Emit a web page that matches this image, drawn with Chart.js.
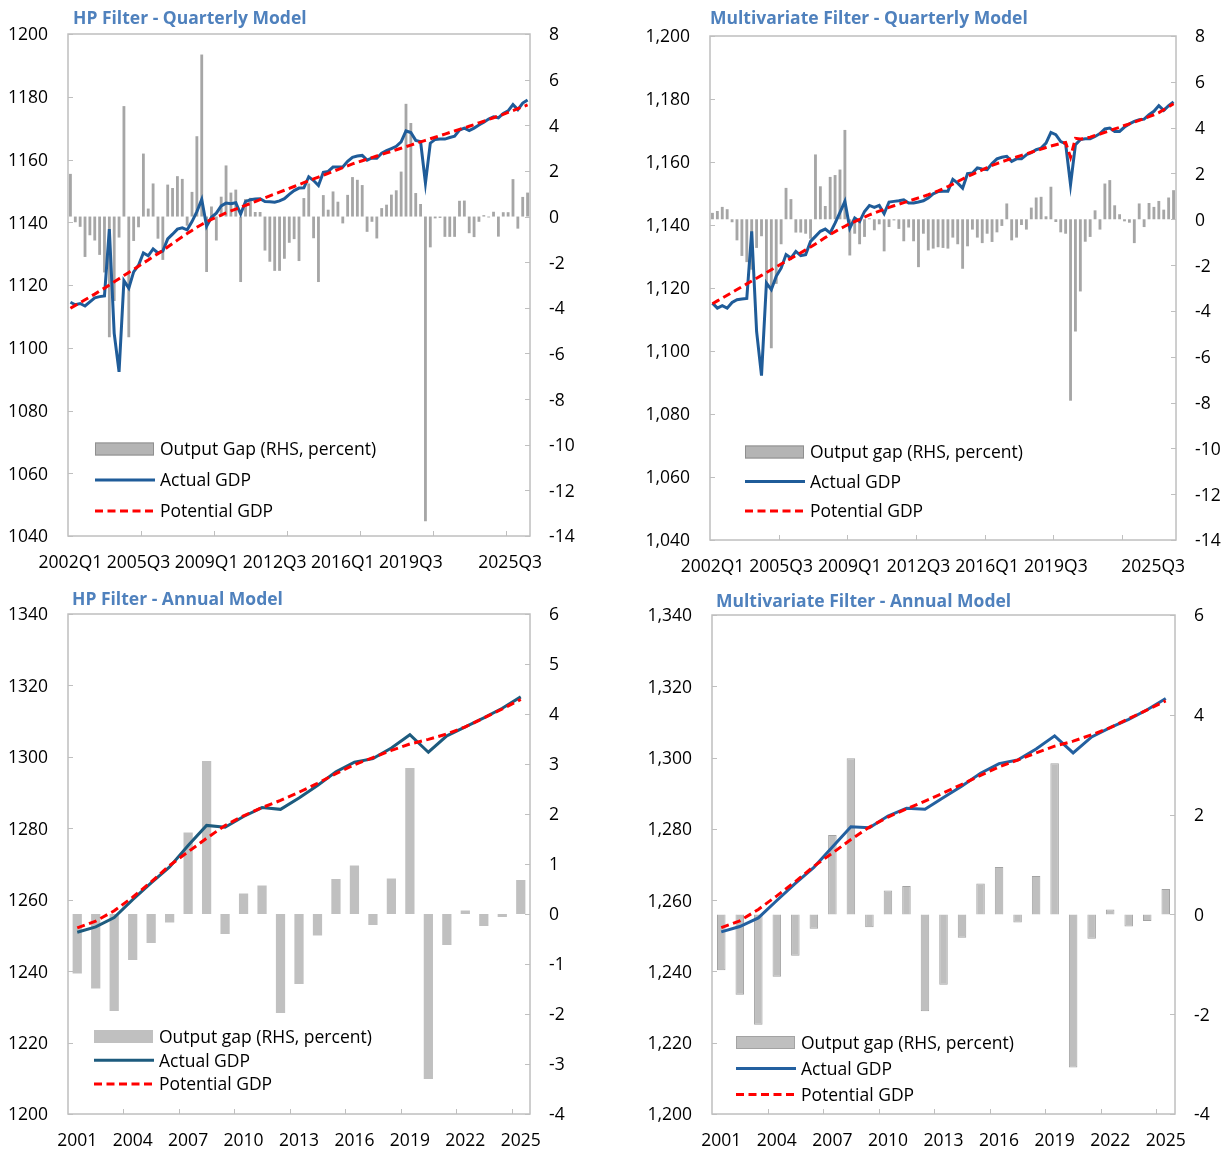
<!DOCTYPE html>
<html>
<head>
<meta charset="utf-8">
<title>Output gap estimates</title>
<script src="https://cdn.jsdelivr.net/npm/chart.js@4.4.1/dist/chart.umd.min.js"></script>
<style>
  html, body { margin: 0; padding: 0; background: #ffffff; }
  #page { position: relative; width: 1225px; height: 1152px; overflow: hidden; }
  canvas { position: absolute; }
</style>
</head>
<body>
<div id="page">
  <canvas id="hpQ" width="612" height="582" style="left:0px;top:0px"></canvas>
  <canvas id="mvQ" width="613" height="582" style="left:612px;top:0px"></canvas>
  <canvas id="hpA" width="612" height="570" style="left:0px;top:582px"></canvas>
  <canvas id="mvA" width="613" height="570" style="left:612px;top:582px"></canvas>
</div>
<script>
// ---------- categories ----------
function quarterLabels(startYear, count) {
  const out = [];
  for (let k = 0; k < count; k++) {
    out.push((startYear + Math.floor(k / 4)) + 'Q' + (k % 4 + 1));
  }
  return out;
}
const quarters = quarterLabels(2002, 95);               // 2002Q1 .. 2025Q3
const years = ['2001','2002','2003','2004','2005','2006','2007','2008','2009','2010',
               '2011','2012','2013','2014','2015','2016','2017','2018','2019','2020',
               '2021','2022','2023','2024','2025'];

// ---------- tick labels ----------
const quarterTickLabels = ['2002Q1','2005Q3','2009Q1','2012Q3','2016Q1','2019Q3','2025Q3'];
const yearTickLabels = ['2001','2004','2007','2010','2013','2016','2019','2022','2025'];
const legendLabelsHPQ = ['Output Gap (RHS, percent)', 'Actual GDP', 'Potential GDP'];
const legendLabels = ['Output gap (RHS, percent)', 'Actual GDP', 'Potential GDP'];

// ---------- HP filter, quarterly ----------
const hpQGap = [
  1.87, -0.25, -0.45, -1.77, -0.82, -1.05, -1.68, -2.45, -5.29, -3.7,
  -0.92, 4.84, -5.29, -1.07, -0.47, 2.76, 0.35, 1.45, -0.97, -1.9,
  1.4, 1.25, 1.77, 1.65, -0.4, 1.08, 3.52, 7.1, -2.43, 0.44,
  -1.05, 0.87, 2.24, 1.05, 1.18, -2.87, 0.77, 0.82, 0.2, 0.2,
  -1.49, -1.98, -2.38, -2.38, -1.85, -1.15, -0.99, -1.95, 0.81, 1.45,
  -0.95, -2.87, 0.94, 0.3, 1.1, 0.65, -0.3, 0.95, 1.73, 1.61,
  1.38, -0.67, -0.23, -0.96, 0.37, 0.52, 0.96, 1.15, 1.97, 4.94,
  4.1, 1.03, 0.55, -13.35, -1.35, -0.08, -0.06, -0.89, -0.89, -0.89,
  0.69, 0.7, -0.73, -0.9, -0.23, 0.06, -0.04, 0.21, -0.88, 0.19,
  0.19, 1.64, -0.53, 0.86, 1.05
];
const hpQActual = [
  1114.5, 1113.7, 1114.1, 1113.3, 1114.6, 1115.9, 1116.3, 1116.5, 1137.8, 1104.6,
  1092.3, 1121.4, 1119.0, 1124.2, 1126.3, 1130.2, 1129.3, 1131.5, 1130.2, 1130.8,
  1134.7, 1136.2, 1137.8, 1138.2, 1137.6, 1140.2, 1143.4, 1147.3, 1138.7, 1141.6,
  1142.9, 1145.2, 1146.1, 1145.9, 1146.2, 1142.6, 1146.6, 1147.2, 1147.4, 1147.5,
  1146.6, 1146.5, 1146.4, 1146.8, 1147.5, 1148.9, 1150.1, 1150.9, 1151.0, 1154.5,
  1153.3, 1151.7, 1155.9, 1156.2, 1157.6, 1157.6, 1157.6, 1159.4, 1160.7, 1161.1,
  1161.3, 1159.8, 1160.5, 1160.4, 1162.0, 1162.8, 1163.5, 1164.2, 1165.6, 1169.1,
  1168.6, 1166.1, 1165.7, 1152.5, 1165.2, 1166.4, 1166.5, 1166.5, 1167.0, 1167.4,
  1169.4, 1170.0, 1169.2, 1170.0, 1171.0, 1171.9, 1172.9, 1173.6, 1173.3, 1174.7,
  1175.5, 1177.5, 1175.9, 1178.0, 1179.0
];
const hpQPotential = [
  1112.6, 1113.5, 1114.4, 1115.3, 1116.2, 1117.1, 1118.1, 1119.0, 1120.0, 1121.0,
  1122.0, 1123.0, 1124.0, 1125.0, 1126.0, 1127.0, 1128.0, 1129.0, 1130.0, 1131.0,
  1132.1, 1133.2, 1134.3, 1135.4, 1136.4, 1137.4, 1138.4, 1139.3, 1140.1, 1140.9,
  1141.6, 1142.3, 1143.0, 1143.6, 1144.2, 1144.8, 1145.4, 1146.0, 1146.6, 1147.2,
  1147.8, 1148.4, 1149.0, 1149.6, 1150.2, 1150.8, 1151.4, 1152.0, 1152.6, 1153.2,
  1153.8, 1154.4, 1155.0, 1155.6, 1156.2, 1156.8, 1157.4, 1158.0, 1158.6, 1159.1,
  1159.6, 1160.1, 1160.6, 1161.1, 1161.6, 1162.1, 1162.6, 1163.1, 1163.6, 1164.1,
  1164.6, 1165.1, 1165.6, 1166.1, 1166.6, 1167.1, 1167.6, 1168.1, 1168.6, 1169.1,
  1169.6, 1170.1, 1170.6, 1171.1, 1171.7, 1172.2, 1172.8, 1173.3, 1173.9, 1174.4,
  1175.0, 1175.6, 1176.2, 1176.8, 1177.4
];

// ---------- Multivariate filter, quarterly ----------
const mvQGap = [
  0.28, 0.36, 0.54, 0.44, -0.13, -0.92, -1.6, -1.87, -2.2, -1.25,
  -0.74, -3.0, -5.63, -2.82, -1.09, 1.37, 0.88, -0.58, -0.58, -0.63,
  -0.85, 2.83, 1.44, 0.58, 1.85, 1.93, 2.17, 3.9, -1.58, -0.63,
  -1.09, -0.77, 0.04, -0.48, -0.22, -1.4, -0.34, -0.05, -0.42, -0.96,
  -0.36, -0.96, -2.09, -0.63, -1.36, -1.28, -1.22, -1.25, -1.28, -0.8,
  -1.09, -2.16, -1.18, -0.45, -0.8, -1.04, -0.63, -0.99, -0.57, -0.29,
  0.69, -0.92, -0.8, -0.25, -0.45, 0.51, 0.95, 0.98, 0.13, 1.42,
  -0.12, -0.57, -0.63, -7.92, -4.9, -3.15, -0.98, -0.77, 0.39, -0.45,
  1.56, 1.71, 0.61, 0.22, -0.09, -0.15, -1.04, 0.69, -0.34, 0.71,
  0.54, 0.8, 0.42, 0.95, 1.27
];
const mvQActual = [
  1115.2, 1113.6, 1114.4, 1113.6, 1115.4, 1116.3, 1116.5, 1116.7, 1138.0, 1106.2,
  1092.2, 1121.6, 1119.5, 1123.7, 1126.3, 1130.6, 1129.5, 1131.6, 1130.3, 1130.6,
  1134.8, 1136.4, 1138.0, 1138.7, 1137.5, 1140.6, 1144.0, 1147.5, 1139.0, 1142.2,
  1141.1, 1144.3, 1146.2, 1145.6, 1146.2, 1143.6, 1147.3, 1147.5, 1147.7, 1148.0,
  1147.0, 1147.0, 1147.3, 1147.7, 1148.6, 1149.9, 1150.6, 1150.7, 1150.7, 1154.5,
  1153.3, 1151.7, 1156.3, 1156.5, 1158.1, 1157.8, 1157.6, 1159.5, 1161.0, 1161.5,
  1161.8, 1160.2, 1161.0, 1161.0, 1162.3, 1163.0, 1163.9, 1164.4, 1166.0, 1169.4,
  1168.7, 1166.5, 1165.8, 1152.8, 1165.5, 1167.1, 1167.4, 1167.4, 1168.1, 1169.0,
  1170.5, 1170.8, 1169.7, 1169.7, 1171.1, 1172.1, 1172.9, 1173.4, 1173.6, 1175.0,
  1176.1, 1177.9, 1176.4, 1177.9, 1179.1
];
const mvQPotential = [
  1115.0, 1115.9, 1116.8, 1117.7, 1118.6, 1119.5, 1120.4, 1121.3, 1122.2, 1123.1,
  1124.0, 1124.9, 1125.8, 1126.7, 1127.6, 1128.5, 1129.4, 1130.3, 1131.2, 1132.1,
  1133.0, 1134.0, 1135.0, 1136.0, 1137.0, 1137.9, 1138.8, 1139.6, 1140.4, 1141.1,
  1141.8, 1142.5, 1143.2, 1143.8, 1144.4, 1145.0, 1145.6, 1146.1, 1146.6, 1147.1,
  1147.6, 1148.1, 1148.6, 1149.1, 1149.6, 1150.2, 1150.8, 1151.5, 1152.2, 1153.0,
  1153.8, 1154.6, 1155.4, 1156.1, 1156.8, 1157.5, 1158.2, 1158.9, 1159.5, 1160.1,
  1160.6, 1161.1, 1161.6, 1162.1, 1162.6, 1163.1, 1163.6, 1164.1, 1164.6, 1165.1,
  1165.5, 1165.9, 1166.2, 1161.5, 1167.5, 1167.3, 1167.5, 1167.9, 1168.4, 1168.9,
  1169.4, 1169.9, 1170.5, 1171.0, 1171.6, 1172.1, 1172.7, 1173.2, 1173.8, 1174.4,
  1175.0, 1175.7, 1176.6, 1177.5, 1178.5
];

// ---------- HP filter, annual ----------
const hpAGap = [-1.19, -1.49, -1.94, -0.92, -0.58, -0.17, 1.63, 3.06, -0.40, 0.41,
                0.57, -1.98, -1.40, -0.43, 0.70, 0.97, -0.22, 0.71, 2.92, -3.30,
                -0.62, 0.07, -0.24, -0.06, 0.68];
const hpAActual = [1250.9, 1252.4, 1255.0, 1260.0, 1264.7, 1269.2, 1275.2, 1280.8, 1280.3, 1283.3,
                   1285.8, 1285.3, 1288.5, 1292.0, 1295.8, 1298.5, 1299.5, 1302.5, 1306.2, 1301.3,
                   1305.9, 1308.4, 1310.9, 1313.6, 1316.8];
const hpAPotential = [1252.1, 1254.0, 1256.9, 1260.7, 1265.0, 1269.6, 1273.4, 1277.2, 1280.8, 1283.5,
                      1285.8, 1287.8, 1290.1, 1292.6, 1295.3, 1297.8, 1299.8, 1301.8, 1303.6, 1304.9,
                      1306.4, 1308.4, 1310.9, 1313.4, 1316.1];

// ---------- Multivariate filter, annual ----------
const mvAGap = [-1.12, -1.61, -2.21, -1.25, -0.83, -0.29, 1.59, 3.13, -0.26, 0.48,
                0.57, -1.94, -1.41, -0.47, 0.62, 0.95, -0.16, 0.77, 3.03, -3.07,
                -0.49, 0.10, -0.24, -0.13, 0.51];
const mvAActual = [1251.1, 1252.6, 1255.0, 1259.9, 1264.7, 1269.2, 1274.9, 1280.6, 1280.3, 1283.6,
                   1285.8, 1285.5, 1288.8, 1292.0, 1295.6, 1298.3, 1299.3, 1302.4, 1306.1, 1301.3,
                   1305.8, 1308.4, 1310.7, 1313.4, 1316.6];
const mvAPotential = [1252.3, 1254.2, 1257.4, 1261.2, 1265.2, 1269.5, 1273.2, 1277.0, 1280.5, 1283.3,
                      1285.6, 1287.8, 1290.1, 1292.5, 1295.0, 1297.4, 1299.3, 1301.3, 1303.2, 1304.6,
                      1306.4, 1308.4, 1310.9, 1313.4, 1315.9];

// ---------- look ----------
const FONT = '"Open Sans", "Noto Sans", "DejaVu Sans", sans-serif';
const TEXT_SIZE = 17.5;
const TEXT_DY = 1.5;          // optical centring of text on its anchor
const TITLE_COLOR = '#4f81bd';
const FRAME_COLOR = '#bfbfbf';
const RED = '#ff0000';

const panels = [
  {
    canvas: 'hpQ', title: 'HP Filter - Quarterly Model',
    labels: quarters, tickLabels: quarterTickLabels, tickEvery: 15, lastLabelPad: 12,
    gap: hpQGap, actual: hpQActual, potential: hpQPotential,
    yRange: [1040, 1200, 20], y1Range: [-14, 8, 2], thousands: false,
    area: { l: 68, r: 530, t: 34, b: 536 }, titleAt: [73, 18],
    legend: { x: 95, y: 449, gap: 31, labels: legendLabelsHPQ },
    barColor: '#a6a6a6', barBorder: null, barPct: 0.58, lineColor: '#1f5c99', patch: ['#b4b4b4', '#8f8f8f']
  },
  {
    canvas: 'mvQ', title: 'Multivariate Filter - Quarterly Model',
    labels: quarters, tickLabels: quarterTickLabels, tickEvery: 14, lastLabelPad: 9,
    gap: mvQGap, actual: mvQActual, potential: mvQPotential,
    yRange: [1040, 1200, 20], y1Range: [-14, 8, 2], thousands: true,
    area: { l: 98, r: 564, t: 36, b: 540 }, titleAt: [98, 18],
    legend: { x: 133, y: 452, gap: 29.5, labels: legendLabels },
    barColor: '#a6a6a6', barBorder: null, barPct: 0.58, lineColor: '#1f5c99', patch: ['#b4b4b4', '#8f8f8f']
  },
  {
    canvas: 'hpA', title: 'HP Filter - Annual Model',
    labels: years, tickLabels: yearTickLabels, tickEvery: 3, lastLabelPad: 30,
    gap: hpAGap, actual: hpAActual, potential: hpAPotential,
    yRange: [1200, 1340, 20], y1Range: [-4, 6, 1], thousands: false,
    area: { l: 68, r: 530, t: 32, b: 532 }, titleAt: [72, 17],
    legend: { x: 94, y: 454.5, gap: 23.7, labels: legendLabels },
    barColor: '#c0c0c0', barBorder: null, barPct: 0.5, lineColor: '#1d5b7e', patch: ['#c0c0c0', null]
  },
  {
    canvas: 'mvA', title: 'Multivariate Filter - Annual Model',
    labels: years, tickLabels: yearTickLabels, tickEvery: 3, lastLabelPad: 30,
    gap: mvAGap, actual: mvAActual, potential: mvAPotential,
    yRange: [1200, 1340, 20], y1Range: [-4, 6, 2], thousands: true,
    area: { l: 100, r: 563, t: 33, b: 532 }, titleAt: [104, 19],
    legend: { x: 124, y: 460.5, gap: 26, labels: legendLabels },
    barColor: '#bfbfbf', barBorder: '#a3a3a3', barPct: 0.46, lineColor: '#2360a0', patch: ['#bfbfbf', '#a3a3a3']
  }
];

function fmt(v, thousands) {
  const s = thousands ? Math.abs(v).toLocaleString('en-US') : String(Math.abs(v));
  return (v < 0 ? '-' : '') + s;
}

// frame, inward tick marks, category labels, title and legend
function makeDecor(p) {
  return {
    id: 'decor_' + p.canvas,
    afterDraw(chart) {
      const ctx = chart.ctx;
      const a = chart.chartArea;
      const xs = chart.scales.x, ys = chart.scales.y, y1 = chart.scales.y1;
      ctx.save();

      ctx.strokeStyle = FRAME_COLOR;
      ctx.lineWidth = 1.5;
      ctx.strokeRect(a.left, a.top, a.right - a.left, a.bottom - a.top);

      ctx.lineWidth = 1;
      ctx.beginPath();
      ys.ticks.forEach(t => {
        const y = Math.round(ys.getPixelForValue(t.value)) + 0.5;
        ctx.moveTo(a.left, y); ctx.lineTo(a.left + 5, y);
      });
      y1.ticks.forEach(t => {
        const y = Math.round(y1.getPixelForValue(t.value)) + 0.5;
        ctx.moveTo(a.right - 5, y); ctx.lineTo(a.right, y);
      });
      const half = (xs.getPixelForValue(1) - xs.getPixelForValue(0)) / 2;
      for (let k = p.tickEvery; k < p.labels.length; k += p.tickEvery) {
        const x = Math.round(xs.getPixelForValue(k) - half) + 0.5;
        ctx.moveTo(x, a.bottom); ctx.lineTo(x, a.bottom - 5);
      }
      ctx.stroke();

      // category labels
      ctx.font = TEXT_SIZE + 'px ' + FONT;
      ctx.fillStyle = '#000000';
      ctx.textAlign = 'center';
      ctx.textBaseline = 'middle';
      p.tickLabels.forEach(lab => {
        const i = p.labels.indexOf(lab);
        if (i < 0) return;
        const w = ctx.measureText(lab).width;
        let x = xs.getPixelForValue(i);
        x = Math.min(x, a.right + p.lastLabelPad - w / 2);
        ctx.fillText(lab, x, a.bottom + 26 + TEXT_DY);
      });

      // title
      ctx.font = 'bold ' + TEXT_SIZE + 'px ' + FONT;
      ctx.fillStyle = TITLE_COLOR;
      ctx.textAlign = 'left';
      ctx.fillText(p.title, p.titleAt[0], p.titleAt[1] + TEXT_DY);

      // legend
      const L = p.legend;
      ctx.font = TEXT_SIZE + 'px ' + FONT;
      L.labels.forEach((lab, r) => {
        const y = L.y + r * L.gap;
        if (r === 0) {
          ctx.fillStyle = p.patch[0];
          ctx.fillRect(L.x, y - 6.5, 59, 13);
          if (p.patch[1]) {
            ctx.strokeStyle = p.patch[1];
            ctx.lineWidth = 1;
            ctx.strokeRect(L.x + 0.5, y - 6, 58, 12);
          }
        } else {
          ctx.beginPath();
          ctx.lineWidth = 3;
          ctx.strokeStyle = r === 1 ? p.lineColor : RED;
          ctx.setLineDash(r === 1 ? [] : [8, 4.5]);
          ctx.moveTo(L.x, y); ctx.lineTo(L.x + 60, y);
          ctx.stroke();
          ctx.setLineDash([]);
        }
        ctx.fillStyle = '#000000';
        ctx.textAlign = 'left';
        ctx.fillText(lab, L.x + 65, y + TEXT_DY);
      });

      ctx.restore();
    }
  };
}

function build() {
  panels.forEach(p => {
    const el = document.getElementById(p.canvas);
    const W = el.width, H = el.height;
    const tickFont = { family: FONT, size: TEXT_SIZE };
    new Chart(el, {
      type: 'bar',
      data: {
        labels: p.labels,
        datasets: [
          { type: 'line', label: 'Potential GDP', data: p.potential, yAxisID: 'y', order: 0,
            borderColor: RED, borderWidth: 3, borderDash: [8, 4.5], pointRadius: 0, tension: 0, fill: false },
          { type: 'line', label: 'Actual GDP', data: p.actual, yAxisID: 'y', order: 1,
            borderColor: p.lineColor, borderWidth: 3, pointRadius: 0, tension: 0, fill: false },
          { type: 'bar', label: p.legend.labels[0], data: p.gap, yAxisID: 'y1', order: 2,
            backgroundColor: p.barColor,
            borderColor: p.barBorder || p.barColor, borderWidth: p.barBorder ? 1 : 0,
            barPercentage: p.barPct, categoryPercentage: 1 }
        ]
      },
      options: {
        responsive: false,
        animation: false,
        devicePixelRatio: 1,
        layout: { padding: { top: p.area.t, bottom: 0, left: 0, right: 0 } },
        plugins: { legend: { display: false }, tooltip: { enabled: false }, title: { display: false } },
        scales: {
          x: {
            type: 'category', offset: true,
            grid: { display: false, drawTicks: false }, border: { display: false },
            ticks: { display: false },
            afterFit(s) { s.height = H - p.area.b; }
          },
          y: {
            position: 'left', min: p.yRange[0], max: p.yRange[1],
            grid: { display: false, drawTicks: false }, border: { display: false },
            ticks: { stepSize: p.yRange[2], color: '#000000', font: tickFont, padding: 20,
                     labelOffset: TEXT_DY, callback: v => fmt(v, p.thousands) },
            afterFit(s) { s.width = p.area.l; }
          },
          y1: {
            position: 'right', min: p.y1Range[0], max: p.y1Range[1],
            grid: { display: false, drawTicks: false }, border: { display: false },
            ticks: { stepSize: p.y1Range[2], color: '#000000', font: tickFont, padding: 19,
                     labelOffset: TEXT_DY, callback: v => fmt(v, false) },
            afterFit(s) { s.width = W - p.area.r; }
          }
        }
      },
      plugins: [makeDecor(p)]
    });
  });
}

const fontLoads = document.fonts
  ? Promise.all([document.fonts.load(TEXT_SIZE + 'px "Open Sans"'), document.fonts.load('bold ' + TEXT_SIZE + 'px "Open Sans"')])
  : Promise.resolve();
fontLoads.then(build, build);
</script>
</body>
</html>
